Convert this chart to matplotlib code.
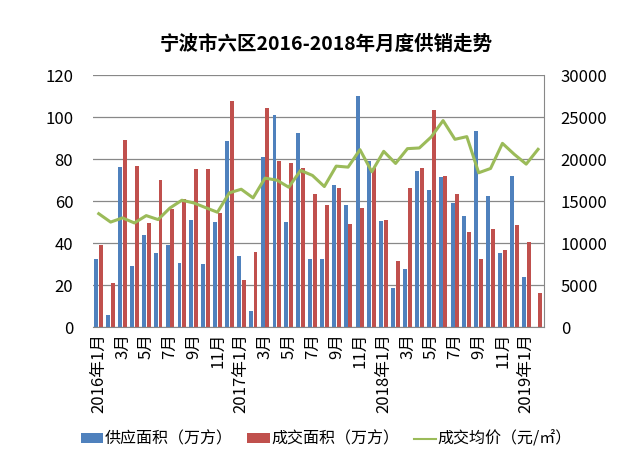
import numpy as np
import matplotlib
matplotlib.use("Agg")
from matplotlib import pyplot as plt
from matplotlib.lines import Line2D

plt.rcParams['font.family'] = ['Noto Sans CJK SC', 'DejaVu Sans']

# 2016-01 .. 2019-02
months = []
for y in (2016, 2017, 2018, 2019):
    for m in range(1, 13):
        months.append((y, m))
months = months[:38]
labels = []
for i, (y, m) in enumerate(months):
    if i % 2 != 0:
        labels.append("")
    elif m == 1:
        labels.append("%d年%d月" % (y, m))
    else:
        labels.append("%d月" % m)

supply = [32.4, 5.7, 76.2, 29.0, 43.9, 35.2, 38.9, 30.3, 51.2, 30.0, 50.2, 88.5,
          33.7, 7.8, 81.2, 101.0, 49.9, 92.2, 32.4, 32.4, 67.6, 58.2, 109.9, 79.1,
          50.4, 18.5, 27.9, 74.2, 65.2, 71.5, 59.0, 53.0, 93.5, 62.4, 35.2, 72.1,
          24.1, 0.3]
sales = [39.2, 20.9, 89.0, 76.7, 49.6, 70.2, 56.1, 61.2, 75.4, 75.4, 54.1, 107.5,
         22.6, 35.7, 104.5, 79.1, 78.1, 75.9, 63.2, 58.2, 66.0, 49.0, 56.6, 75.9,
         50.9, 31.6, 66.0, 75.9, 103.3, 71.8, 63.2, 45.5, 32.4, 46.6, 36.8, 48.8,
         40.7, 16.3]
price = [13500, 12500, 13000, 12400, 13270, 12800, 14180, 15100, 14780, 14220, 13670, 15980,
         16410, 15380, 17730, 17490, 16650, 18650, 18050, 16730, 19160, 19040, 21120, 18490,
         20920, 19480, 21240, 21320, 22630, 24580, 22350, 22670, 18370, 18880, 21870, 20560,
         19400, 21160]

blue = '#4F81BD'
red = '#C0504D'
green = '#9BBB59'

fig = plt.figure(figsize=(6.4, 4.66), dpi=100)
ax = fig.add_axes([0.145, 0.298, 0.705, 0.541])
x = np.arange(len(months))
w = 0.33
b1 = ax.bar(x - 0.2, supply, w, color=blue, label='供应面积（万方）', zorder=2)
b2 = ax.bar(x + 0.2, sales, w, color=red, label='成交面积（万方）', zorder=2)
ax.set_ylim(0, 120)
ax.set_yticks(range(0, 121, 20))
ax.set_xlim(-0.5, len(months) - 0.5)
ax.set_xticks(x)
ax.set_xticklabels(labels, rotation=90, fontsize=12)
ax.yaxis.grid(True, color='#888888', linewidth=0.9, zorder=0)
ax.tick_params(axis='y', length=0, labelsize=12, pad=14)
ax.tick_params(axis='x', length=0, pad=4)
for s in ('top', 'right', 'left'):
    ax.spines[s].set_visible(False)
ax.spines['bottom'].set_color('#888888')

ax2 = ax.twinx()
ax2.plot(x, price, color=green, linewidth=2.2, zorder=3)
ax2.set_ylim(0, 30000)
ax2.set_yticks(range(0, 30001, 5000))
ax2.tick_params(axis='y', length=0, labelsize=12, pad=12)
for s in ('top', 'left', 'bottom'):
    ax2.spines[s].set_visible(False)
ax2.spines['right'].set_color('#888888')

fig.text(0.51, 0.905, '宁波市六区2016-2018年月度供销走势', ha='center', va='center',
         fontsize=14, fontweight='bold')
l1 = Line2D([], [], color=green, linewidth=1.5, label='成交均价（元/㎡）')
fig.legend(handles=[b1, b2, l1], loc='center', bbox_to_anchor=(0.51, 0.057), ncol=3,
           frameon=False, fontsize=11.5, handlelength=1.4, handleheight=0.6,
           handletextpad=0.1, columnspacing=0.9)

fig.savefig('out.png', dpi=100, facecolor='white')
